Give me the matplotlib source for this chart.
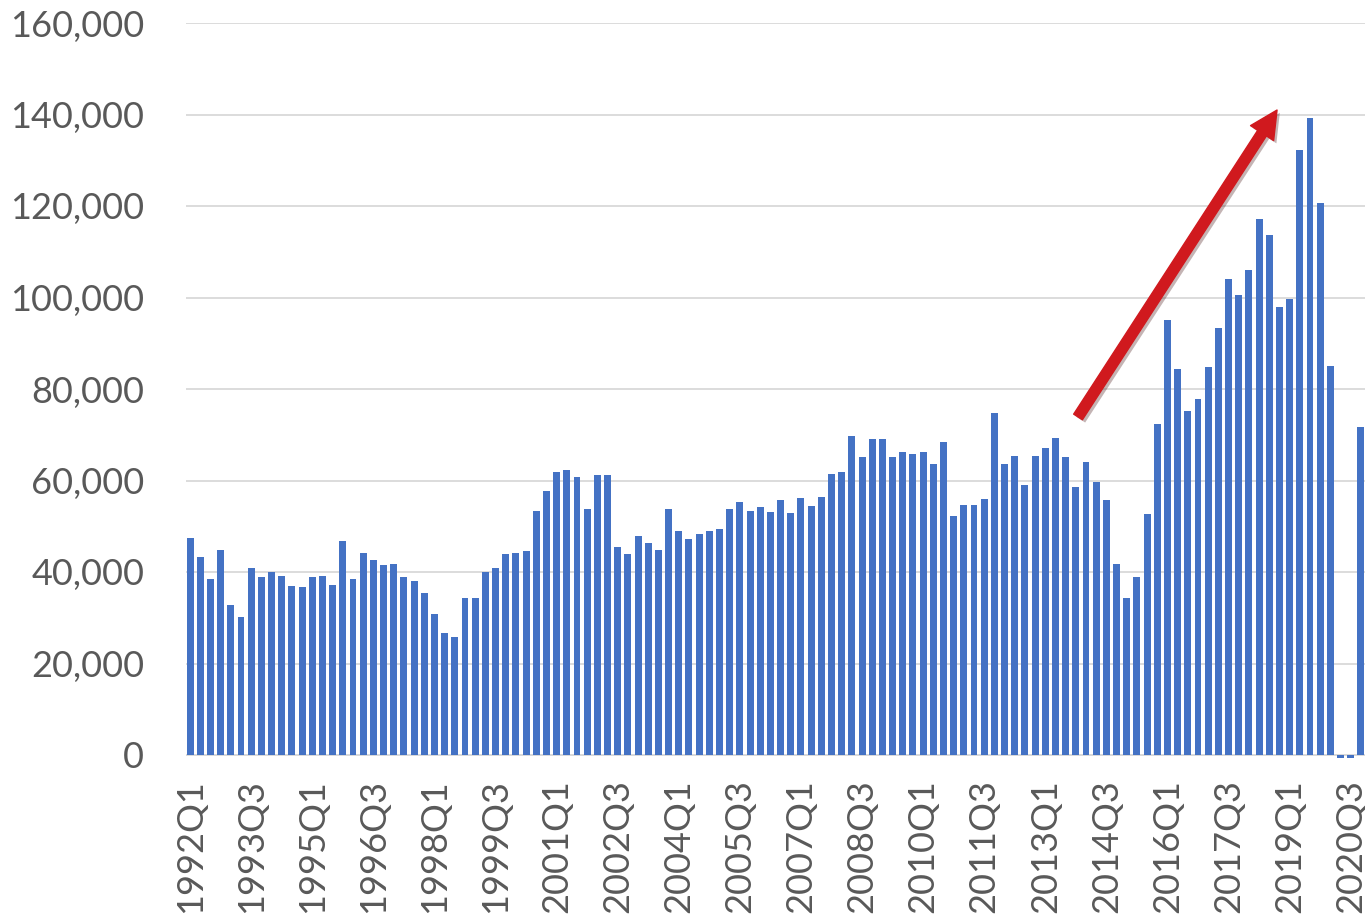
import numpy as np
import matplotlib
matplotlib.use("Agg")
import matplotlib.pyplot as plt
import matplotlib.patheffects as pe
from matplotlib.ticker import FuncFormatter

plt.rcParams['font.family'] = ['Lato', 'DejaVu Sans']

# quarterly values, 1992Q1 .. 2020Q4
values = [
    47400, 43200, 38400, 44800, 32700, 30200, 40900, 38800,
    39900, 39100, 36900, 36700, 38900, 39200, 37100, 46800,
    38400, 44100, 42600, 41600, 41800, 38800, 38100, 35400,
    30900, 26600, 25900, 34300, 34300, 39900, 40900, 43900,
    44200, 44500, 53400, 57600, 61900, 62200, 60800, 53700,
    61200, 61200, 45400, 43900, 47800, 46400, 44700, 53800,
    49000, 47200, 48200, 49000, 49300, 53800, 55300, 53300,
    54100, 53100, 55700, 52800, 56100, 54500, 56400, 61400,
    61800, 69700, 65200, 69100, 69100, 65200, 66300, 65900,
    66200, 63500, 68400, 52200, 54600, 54600, 56000, 74800,
    63500, 65400, 59000, 65400, 67000, 69300, 65100, 58600,
    64100, 59600, 55700, 41800, 34400, 38800, 52600, 72300,
    95000, 84300, 75100, 77800, 84700, 93300, 104000, 100500,
    106000, 117100, 113600, 97900, 99600, 132200, 139300, 120600,
    85000, -600, -600, 71700,
]
quarters = [f"{y}Q{q}" for y in range(1992, 2021) for q in range(1, 5)]
label_step = 6

W, H = 1365, 914
fig = plt.figure(figsize=(W / 100, H / 100), dpi=100)
ymin, ymax = -800, 160000
ax_bottom_px = 755 + 800 * (732 / 160000)
ax = fig.add_axes([186 / W, 1 - ax_bottom_px / H, 1179 / W, (ax_bottom_px - 23) / H])

x = np.arange(len(values))
ax.bar(x, values, width=0.68, color='#4472C4', zorder=3)

ax.set_ylim(ymin, ymax)
ax.set_xlim(-0.4, 115.4)
ax.set_yticks(np.arange(0, 160001, 20000))
ax.yaxis.set_major_formatter(FuncFormatter(lambda v, p: f"{int(v):,}"))
ax.grid(axis='y', color='#d9d9d9', linewidth=1.3, zorder=0)
ax.axhline(0, color='#d9d9d9', linewidth=1.3, zorder=2)

ax.set_xticks(x[::label_step])
ax.set_xticklabels(quarters[::label_step], rotation=90)
ax.tick_params(axis='x', length=0, pad=15, labelsize=26, labelcolor='#595959')
ax.tick_params(axis='y', length=0, pad=30, labelsize=26, labelcolor='#595959')
for s in ax.spines.values():
    s.set_visible(False)

# red trend arrow
ax.annotate('', xy=(0.9254, 0.8817), xytext=(0.7566, 0.4645),
            xycoords='axes fraction',
            arrowprops=dict(arrowstyle='simple,head_width=0.9,head_length=0.9,tail_width=0.34',
                            mutation_scale=22, color='#D0191E', shrinkA=0, shrinkB=0,
                            path_effects=[pe.SimplePatchShadow(offset=(2, -2), alpha=0.3),
                                          pe.Normal()]),
            zorder=5)

fig.savefig('out.png', dpi=100)
